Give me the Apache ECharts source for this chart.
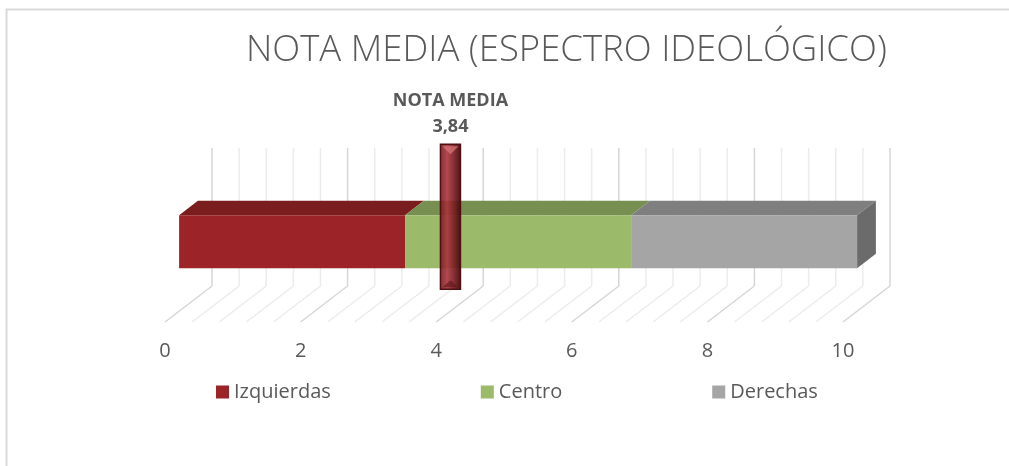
<!DOCTYPE html>
<html>
<head>
<meta charset="utf-8">
<script src="https://cdn.jsdelivr.net/npm/echarts@6/dist/echarts.min.js"></script>
<style>
  html, body { margin: 0; padding: 0; background: #fff; }
  #chart { width: 1009px; height: 466px; }
</style>
</head>
<body>
<div id="chart"></div>
<script>
// data
const categories = ['Izquierdas', 'Centro', 'Derechas']
const segStart = [0, 3.333, 6.667]
const segEnd = [3.333, 6.667, 10]
const notaMedia = 3.84
const tickLabels = [0, 2, 4, 6, 8, 10]
const gridTicks = [0, 0.4, 0.8, 1.2, 1.6, 2, 2.4, 2.8, 3.2, 3.6, 4, 4.4, 4.8, 5.2, 5.6, 6,
  6.4, 6.8, 7.2, 7.6, 8, 8.4, 8.8, 9.2, 9.6, 10]

// look
const frontColors = ['#9c2327', '#9bbb6a', '#a5a5a5']
const topColors = ['#7a1d1e', '#778f50', '#7f7f7f']
const sideColor = '#6b6b6b'
const TXT = '#595959'
const FONT = '"Open Sans", "Liberation Sans", sans-serif'
const DX = 47, DY = 36          // full depth offset of the 3D box
const BAR_D0 = 0.3, BAR_D1 = 0.7 // bar depth range
const BAR_BOTTOM = 43, BAR_TOP = 96 // px above floor at bar front
const WALL_TOP = 138

let myChart = echarts.init(document.getElementById('chart'))

function wallItem(params, api) {
  const v = api.value(0)
  const p = api.coord([v, 0])
  const major = Math.abs(v / 2 - Math.round(v / 2)) < 1e-6
  const color = major ? '#d6d6d6' : '#ececec'
  return {
    type: 'group',
    children: [
      { type: 'line', shape: { x1: p[0] + DX, y1: p[1] - DY, x2: p[0] + DX, y2: p[1] - DY - WALL_TOP },
        style: { stroke: color, lineWidth: 1.5 } },
      { type: 'line', shape: { x1: p[0] + DX, y1: p[1] - DY, x2: p[0], y2: p[1] },
        style: { stroke: color, lineWidth: 1.5 } }
    ]
  }
}

function barItem(idx) {
  return function (params, api) {
    const a = api.coord([api.value(0), 0])
    const b = api.coord([api.value(1), 0])
    const fx0 = a[0] + DX * BAR_D0, fx1 = b[0] + DX * BAR_D0
    const fb = a[1] - DY * BAR_D0 - BAR_BOTTOM
    const ft = a[1] - DY * BAR_D0 - BAR_TOP
    const ox = DX * (BAR_D1 - BAR_D0), oy = DY * (BAR_D1 - BAR_D0)
    const children = [
      { type: 'polygon', shape: { points: [[fx0, ft], [fx0 + ox, ft - oy], [fx1 + ox, ft - oy], [fx1, ft]] },
        style: { fill: topColors[idx] } },
      { type: 'rect', shape: { x: fx0, y: ft, width: fx1 - fx0, height: fb - ft },
        style: { fill: frontColors[idx] } }
    ]
    if (idx === categories.length - 1) {
      children.push({ type: 'polygon',
        shape: { points: [[fx1, ft], [fx1 + ox, ft - oy], [fx1 + ox, fb - oy], [fx1, fb]] },
        style: { fill: sideColor } })
    }
    return { type: 'group', children: children }
  }
}

function markerItem(params, api) {
  const v = api.value(0)
  const p = api.coord([v, 0])
  const x = p[0] + DX * BAR_D0 + 1
  const y0 = p[1] - DY * BAR_D0 - 22
  const y1 = p[1] - DY * BAR_D0 - 167
  const w = 20
  const label = 'NOTA MEDIA\n' + v.toFixed(2).replace('.', ',')
  return {
    type: 'group',
    children: [
      { type: 'rect', shape: { x: x, y: y1, width: w, height: y0 - y1 },
        style: {
          fill: new echarts.graphic.LinearGradient(0, 0, 1, 0, [
            { offset: 0, color: 'rgba(120,24,30,0.9)' },
            { offset: 0.35, color: 'rgba(168,52,60,0.9)' },
            { offset: 0.7, color: 'rgba(118,26,30,0.92)' },
            { offset: 1, color: 'rgba(60,8,10,0.94)' }
          ]),
          stroke: '#4e1013', lineWidth: 1.5 } },
      { type: 'polygon', shape: { points: [[x + 2, y1 + 2], [x + w - 2, y1 + 2], [x + w / 2, y1 + 10]] },
        style: { fill: 'rgba(220,120,125,0.7)' } },
      { type: 'polygon', shape: { points: [[x + 2, y0 - 2], [x + w - 2, y0 - 2], [x + w / 2, y0 - 9]] },
        style: { fill: 'rgba(90,20,24,0.6)' } },
      { type: 'text', x: x + w / 2, y: y1 - 30,
        style: { text: label, fill: TXT, font: 'bold 18px ' + FONT, align: 'center',
          verticalAlign: 'middle', lineHeight: 26 } }
    ]
  }
}

const barSeries = categories.map(function (name, i) {
  return {
    name: name,
    type: 'custom',
    renderItem: barItem(i),
    itemStyle: { color: frontColors[i] },
    data: [[segStart[i], segEnd[i]]],
    z: 3
  }
})

const option = {
  animation: false,
  title: {
    text: 'NOTA MEDIA (ESPECTRO IDEOLÓGICO)',
    left: 241,
    top: 27,
    textStyle: { color: TXT, fontSize: 36.5, fontWeight: 300, fontFamily: FONT }
  },
  legend: {
    data: categories,
    left: 211,
    top: 377,
    icon: 'rect',
    itemWidth: 13,
    itemHeight: 13,
    itemGap: 150,
    textStyle: { color: TXT, fontSize: 20, fontFamily: FONT }
  },
  grid: { left: 165, right: 166, top: 184, bottom: 144 },
  xAxis: {
    type: 'value',
    min: 0,
    max: 10,
    interval: 2,
    axisLine: { show: false },
    axisTick: { show: false },
    splitLine: { show: false },
    axisLabel: {
      color: TXT, fontSize: 20, fontFamily: FONT, margin: 19,
      formatter: function (v) { return tickLabels.indexOf(v) >= 0 ? String(v) : '' }
    }
  },
  yAxis: { type: 'value', min: 0, max: 10, show: false },
  graphic: [
    { type: 'polyline', shape: { points: [[6.5, 466], [6.5, 9.5], [1009, 9.5]] },
      style: { stroke: '#d9d9d9', lineWidth: 2, fill: null }, silent: true }
  ],
  series: [
    { type: 'custom', renderItem: wallItem, data: gridTicks.map(function (t) { return [t] }), z: 1, silent: true }
  ].concat(barSeries).concat([
    { type: 'custom', renderItem: markerItem, data: [[notaMedia]], z: 5 }
  ])
}

myChart.setOption(option)
window.onresize = function () {
  myChart.resize()
}
</script>
</body>
</html>
